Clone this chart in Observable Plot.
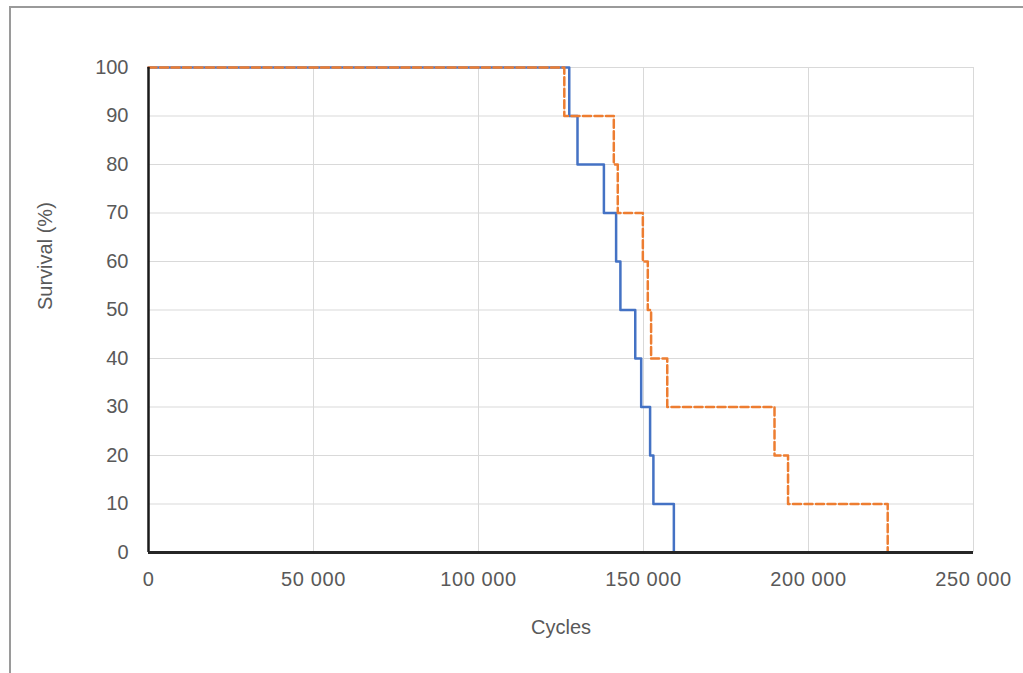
<!DOCTYPE html>
<html>
<head>
<meta charset="utf-8">
<script src="https://cdn.jsdelivr.net/npm/d3@7"></script>
<script src="https://cdn.jsdelivr.net/npm/@observablehq/plot@0.6"></script>
<style>
  html, body { margin: 0; padding: 0; background: #fff; overflow: hidden; }
  #frame { position: absolute; left: 9px; top: 6px; width: 1100px; height: 800px; border: 2px solid #9a9a9a; box-sizing: border-box; }
  #chart { position: absolute; left: 0; top: 0; }
  svg { font-family: "Liberation Sans", Arial, sans-serif; }
  g[aria-label="x-axis tick label"] text { letter-spacing: 0.6px; }
</style>
</head>
<body>
<div id="frame"></div>
<div id="chart"></div>
<script>
// Blue series (solid)
const blueCycles   = [0, 127500, 130000, 138000, 141700, 143000, 147500, 149300, 152000, 153000, 159200];
const blueSurvival = [100, 90, 80, 70, 60, 50, 40, 30, 20, 10, 0];
// Orange series (dashed)
const orangeCycles   = [0, 126000, 141000, 142200, 149800, 151300, 152300, 157200, 189700, 193800, 224000];
const orangeSurvival = [100, 90, 80, 70, 60, 50, 40, 30, 20, 10, 0];

const xTicks = [0, 50000, 100000, 150000, 200000, 250000];
const yTicks = [0, 10, 20, 30, 40, 50, 60, 70, 80, 90, 100];

const blue = blueCycles.map((c, i) => ({x: c, y: blueSurvival[i]}));
const orange = orangeCycles.map((c, i) => ({x: c, y: orangeSurvival[i]}));

const fmt = d => d3.format(",")(d).replace(/,/g, " ");

const chart = Plot.plot({
  width: 1023,
  height: 673,
  marginLeft: 148,
  marginRight: 50,
  marginTop: 67,
  marginBottom: 121,
  style: {fontFamily: "'Liberation Sans', Arial, sans-serif", fontSize: "20px", color: "#595959", background: "transparent"},
  x: {domain: [0, 250000], ticks: xTicks},
  y: {domain: [0, 100], ticks: yTicks},
  marks: [
    Plot.gridX(xTicks, {stroke: "#d9d9d9", strokeOpacity: 1, strokeWidth: 1}),
    Plot.gridY(yTicks, {stroke: "#d9d9d9", strokeOpacity: 1, strokeWidth: 1}),
    Plot.axisX(xTicks, {tickSize: 0, tickPadding: 19, tickFormat: fmt, fill: "#595959", fontSize: 20, label: null}),
    Plot.axisY(yTicks, {tickSize: 0, tickPadding: 20, fill: "#595959", fontSize: 20, label: null}),
    Plot.text(["Cycles"], {frameAnchor: "bottom", dy: 81, fill: "#595959", fontSize: 20}),
    Plot.text(["Survival (%)"], {frameAnchor: "left", dx: -103, rotate: -90, fill: "#595959", fontSize: 20}),
    Plot.line(blue, {x: "x", y: "y", curve: "step-after", stroke: "#4472C4", strokeWidth: 2.5}),
    Plot.line(orange, {x: "x", y: "y", curve: "step-after", stroke: "#ED7D31", strokeWidth: 2.5, strokeDasharray: "8,3.5"}),
    Plot.ruleX([0], {y1: 0, y2: 100, stroke: "#1a1a1a", strokeWidth: 2.5}),
    Plot.ruleY([0], {x1: 0, x2: 250000, stroke: "#262626", strokeWidth: 3})
  ]
});
document.getElementById("chart").appendChild(chart);
</script>
</body>
</html>
